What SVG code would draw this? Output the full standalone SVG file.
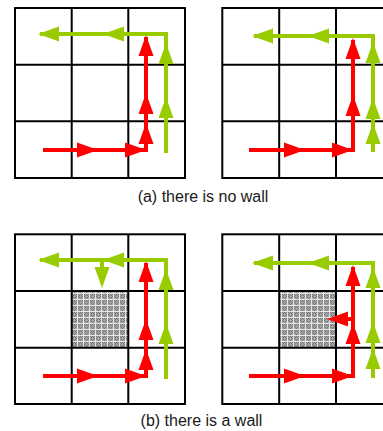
<svg xmlns="http://www.w3.org/2000/svg" xmlns:xlink="http://www.w3.org/1999/xlink" width="383" height="431" viewBox="0 0 383 431">
  <style>
    .grid{fill:none;stroke:#000;stroke-width:2}
    .r{fill:none;stroke:#ff0000;stroke-width:4;stroke-linejoin:miter}
    .g{fill:none;stroke:#99cc00;stroke-width:4;stroke-linejoin:miter}
    .rh{fill:#ff0000}
    .gh{fill:#99cc00}
    .cap{font-family:"Liberation Sans",Arial,sans-serif;font-size:16px;fill:#1a1a1a;text-anchor:middle}
  </style>
  <defs>
    <path id="ah" d="M0,0 L-21,-7.5 L-21,7.5 Z"/>
    <pattern id="wallpat" width="6" height="6" patternUnits="userSpaceOnUse">
      <rect width="6" height="6" fill="#a6a6a6"/>
      <rect x="0" y="0" width="1" height="1" fill="#777"/>
      <rect x="2" y="0" width="1" height="1" fill="#777"/>
      <rect x="4" y="0" width="1" height="1" fill="#777"/>
      <rect x="1" y="1" width="1" height="1" fill="#777"/>
      <rect x="3" y="1" width="1" height="1" fill="#777"/>
      <rect x="1" y="3" width="1" height="1" fill="#777"/>
      <rect x="3" y="3" width="1" height="1" fill="#777"/>
      <rect x="0" y="2" width="1" height="1" fill="#777"/>
      <rect x="2" y="4" width="1" height="1" fill="#777"/>
      <rect x="4" y="2" width="1" height="1" fill="#777"/>
      <rect x="5" y="0" width="1" height="6" fill="#e6e6e6"/>
      <rect x="0" y="5" width="6" height="1" fill="#e6e6e6"/>
    </pattern>
  </defs>

  <!-- panel a, left -->
  <g id="panel-a-left">
    <rect class="grid" x="15" y="8" width="170" height="170"/>
    <path class="grid" d="M71.7,8V178M128.3,8V178M15,64.7H185M15,121.3H185"/>
  </g>
  <!-- panel a, right -->
  <g id="panel-a-right">
    <rect class="grid" x="222.3" y="8" width="170.7" height="170"/>
    <path class="grid" d="M279.2,8V178M336,8V178M222.3,64.7H393M222.3,121.3H393"/>
  </g>
  <!-- panel b, left -->
  <g id="panel-b-left">
    <rect id="wall-b-left" x="71.7" y="291" width="56.6" height="56.7" fill="url(#wallpat)"/>
    <rect class="grid" x="15" y="234.3" width="170" height="169.7"/>
    <path class="grid" d="M71.7,234.3V404M128.3,234.3V404M15,291H185M15,347.7H185"/>
  </g>
  <!-- panel b, right -->
  <g id="panel-b-right">
    <rect id="wall-b-right" x="279.2" y="291" width="56.8" height="56.7" fill="url(#wallpat)"/>
    <rect class="grid" x="222.3" y="234.3" width="170.7" height="169.7"/>
    <path class="grid" d="M279.2,234.3V404M336,234.3V404M222.3,291H393M222.3,347.7H393"/>
  </g>

  <g id="connectors">
    <!-- a left -->
    <g id="arrows-a-left">
      <polyline class="r" points="43,150 146,150 146,37"/>
      <use href="#ah" class="rh" transform="translate(98,150)"/>
      <use href="#ah" class="rh" transform="translate(146,150)"/>
      <use href="#ah" class="rh" transform="translate(146,35) rotate(-90)"/>
      <use href="#ah" class="rh" transform="translate(146,93) rotate(-90)"/>
      <use href="#ah" class="rh" transform="translate(146,123) rotate(-90)"/>
      <polyline class="g" points="166,153 166,34 40,34"/>
      <use href="#ah" class="gh" transform="translate(166,43) rotate(-90)"/>
      <use href="#ah" class="gh" transform="translate(166,97) rotate(-90)"/>
      <use href="#ah" class="gh" transform="translate(38,34) rotate(180)"/>
      <use href="#ah" class="gh" transform="translate(103,34) rotate(180)"/>
    </g>
    <!-- a right -->
    <g id="arrows-a-right">
      <polyline class="r" points="249,150 353,150 353,40"/>
      <use href="#ah" class="rh" transform="translate(305,150)"/>
      <use href="#ah" class="rh" transform="translate(353,150)"/>
      <use href="#ah" class="rh" transform="translate(353,38) rotate(-90)"/>
      <use href="#ah" class="rh" transform="translate(353,95) rotate(-90)"/>
      <polyline class="g" points="373,152 373,36 254,36"/>
      <use href="#ah" class="gh" transform="translate(373,42) rotate(-90)"/>
      <use href="#ah" class="gh" transform="translate(373,98) rotate(-90)"/>
      <use href="#ah" class="gh" transform="translate(373,123) rotate(-90)"/>
      <use href="#ah" class="gh" transform="translate(252,36) rotate(180)"/>
      <use href="#ah" class="gh" transform="translate(308,36) rotate(180)"/>
    </g>
    <!-- b left -->
    <g id="arrows-b-left">
      <polyline class="r" points="43,376 146,376 146,263"/>
      <use href="#ah" class="rh" transform="translate(98,376)"/>
      <use href="#ah" class="rh" transform="translate(146,376)"/>
      <use href="#ah" class="rh" transform="translate(146,261) rotate(-90)"/>
      <use href="#ah" class="rh" transform="translate(146,319) rotate(-90)"/>
      <use href="#ah" class="rh" transform="translate(146,349) rotate(-90)"/>
      <polyline class="g" points="166,379 166,260 40,260"/>
      <use href="#ah" class="gh" transform="translate(166,269) rotate(-90)"/>
      <use href="#ah" class="gh" transform="translate(166,323) rotate(-90)"/>
      <use href="#ah" class="gh" transform="translate(38,260) rotate(180)"/>
      <use href="#ah" class="gh" transform="translate(103,260) rotate(180)"/>
      <line class="g" x1="102" y1="260" x2="102" y2="272"/>
      <use href="#ah" class="gh" transform="translate(102,288) rotate(90)"/>
    </g>
    <!-- b right -->
    <g id="arrows-b-right">
      <polyline class="r" points="249,376 353,376 353,267"/>
      <use href="#ah" class="rh" transform="translate(305,376)"/>
      <use href="#ah" class="rh" transform="translate(353,376)"/>
      <use href="#ah" class="rh" transform="translate(353,265) rotate(-90)"/>
      <use href="#ah" class="rh" transform="translate(353,323) rotate(-90)"/>
      <line class="r" x1="353" y1="319" x2="343" y2="319"/>
      <use href="#ah" class="rh" transform="translate(327,319) rotate(180)"/>
      <polyline class="g" points="373,378 373,263 254,263"/>
      <use href="#ah" class="gh" transform="translate(373,267) rotate(-90)"/>
      <use href="#ah" class="gh" transform="translate(373,322) rotate(-90)"/>
      <use href="#ah" class="gh" transform="translate(373,348) rotate(-90)"/>
      <use href="#ah" class="gh" transform="translate(252,263) rotate(180)"/>
      <use href="#ah" class="gh" transform="translate(308,263) rotate(180)"/>
    </g>
  </g>

  <text class="cap" x="203" y="202">(a) there is no wall</text>
  <text class="cap" x="201.5" y="426">(b) there is a wall</text>
</svg>
